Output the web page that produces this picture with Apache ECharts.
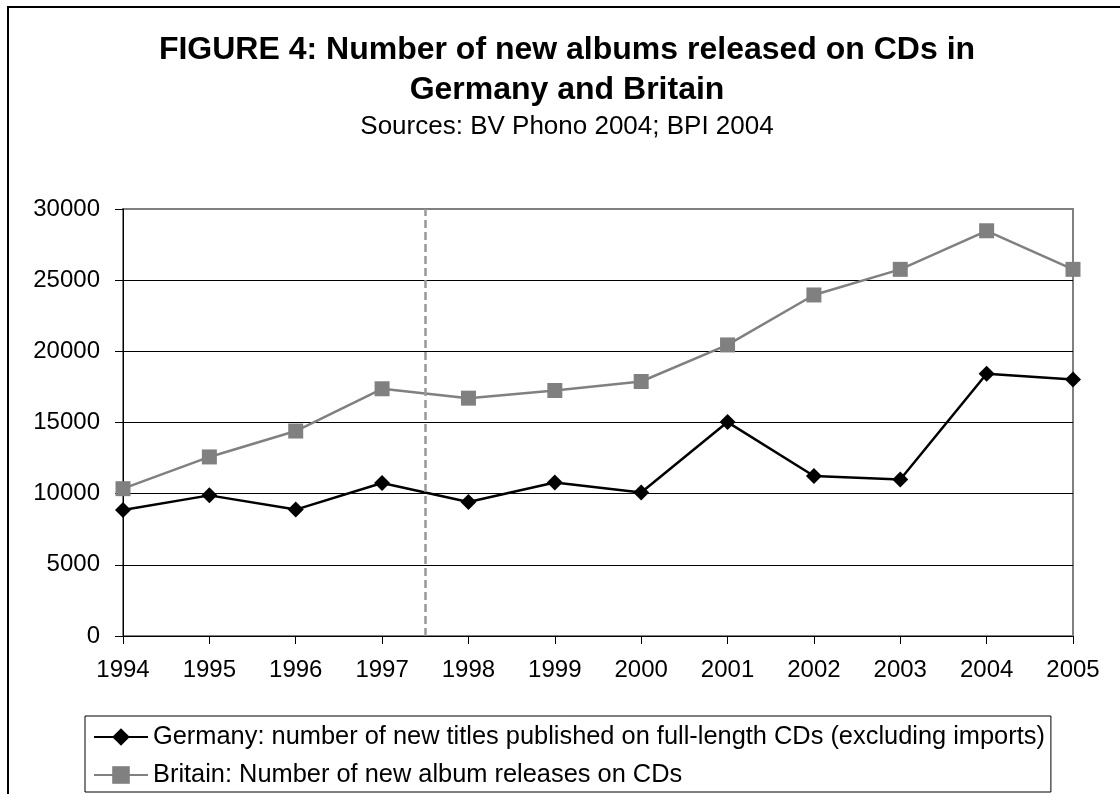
<!DOCTYPE html>
<html>
<head>
<meta charset="utf-8">
<script src="https://cdn.jsdelivr.net/npm/echarts@6/dist/echarts.min.js"></script>
<style>
  html, body { margin: 0; padding: 0; background: #fff; }
  #chart { width: 1120px; height: 794px; }
</style>
</head>
<body>
<div id="chart"></div>
<script>
// values
const years = [1994, 1995, 1996, 1997, 1998, 1999, 2000, 2001, 2002, 2003, 2004, 2005];
const germany = [8850, 9880, 8880, 10750, 9420, 10780, 10080, 15030, 11240, 10990, 18420, 18020];
const britain = [10350, 12580, 14400, 17370, 16710, 17250, 17880, 20450, 23960, 25760, 28470, 25760];
const yTicks = [0, 5000, 10000, 15000, 20000, 25000, 30000];
const breakYear = 1997.5;

const germanyName = "Germany: number of new titles published on full-length CDs (excluding imports)";
const britainName = "Britain: Number of new album releases on CDs";

const font = "Liberation Sans, Arial, sans-serif";

const chart = echarts.init(document.getElementById("chart"));

const option = {
  animation: false,
  backgroundColor: "#fff",
  textStyle: { fontFamily: font, color: "#000" },
  graphic: [
    {
      type: "rect",
      shape: { x: 8, y: 7, width: 1300, height: 1000 },
      style: { fill: "none", stroke: "#000", lineWidth: 2 },
      silent: true
    }
  ],
  title: [
    {
      text: "FIGURE 4: Number of new albums released on CDs in\nGermany and Britain",
      left: 567,
      top: 30,
      padding: 0,
      textAlign: "center",
      textStyle: { fontFamily: font, fontSize: 32, fontWeight: "bold", lineHeight: 40, color: "#000" }
    },
    {
      text: "Sources: BV Phono 2004; BPI 2004",
      left: 567,
      top: 112,
      padding: 0,
      textAlign: "center",
      textStyle: { fontFamily: font, fontSize: 26, fontWeight: "normal", lineHeight: 30, color: "#000" }
    }
  ],
  grid: {
    left: 123,
    right: 47,
    top: 209,
    bottom: 158,
    show: true,
    borderColor: "#808080",
    borderWidth: 2,
    containLabel: false
  },
  legend: {
    orient: "vertical",
    left: 85,
    top: 716,
    padding: [7, 6, 3, 8],
    itemGap: 10,
    itemWidth: 54,
    itemHeight: 22,
    borderColor: "#000",
    borderWidth: 1,
    textStyle: { fontFamily: font, fontSize: 25.4, lineHeight: 28, color: "#000" },
    data: [germanyName, britainName]
  },
  xAxis: {
    type: "value",
    min: years[0],
    max: years[years.length - 1],
    interval: 1,
    axisLine: { show: true, lineStyle: { color: "#000", width: 1 } },
    axisTick: { show: true, length: 8, lineStyle: { color: "#000" } },
    axisLabel: {
      margin: 22,
      fontFamily: font,
      fontSize: 24,
      color: "#000",
      formatter: v => String(v)
    },
    splitLine: { show: false }
  },
  yAxis: {
    type: "value",
    min: yTicks[0],
    max: yTicks[yTicks.length - 1],
    interval: 5000,
    axisLine: { show: true, lineStyle: { color: "#000", width: 1 } },
    axisTick: { show: true, length: 8, lineStyle: { color: "#000" } },
    axisLabel: { margin: 23, fontFamily: font, fontSize: 24, color: "#000", formatter: v => String(v) },
    splitLine: {
      show: true,
      lineStyle: { color: ["#000", "#000", "#000", "#000", "#000", "#000", "#808080"], width: 1 }
    }
  },
  series: [
    {
      name: germanyName,
      type: "line",
      data: years.map((y, i) => [y, germany[i]]),
      symbol: "diamond",
      symbolSize: 16,
      itemStyle: { color: "#000" },
      lineStyle: { color: "#000", width: 2.5 },
      z: 3,
      markLine: {
        silent: true,
        symbol: "none",
        label: { show: false },
        lineStyle: { color: "#999", type: [8, 4], width: 2.5 },
        data: [{ xAxis: breakYear }]
      }
    },
    {
      name: britainName,
      type: "line",
      data: years.map((y, i) => [y, britain[i]]),
      symbol: "rect",
      symbolSize: 15,
      itemStyle: { color: "#808080" },
      lineStyle: { color: "#808080", width: 2.5 },
      z: 2
    }
  ]
};

chart.setOption(option);
</script>
</body>
</html>
